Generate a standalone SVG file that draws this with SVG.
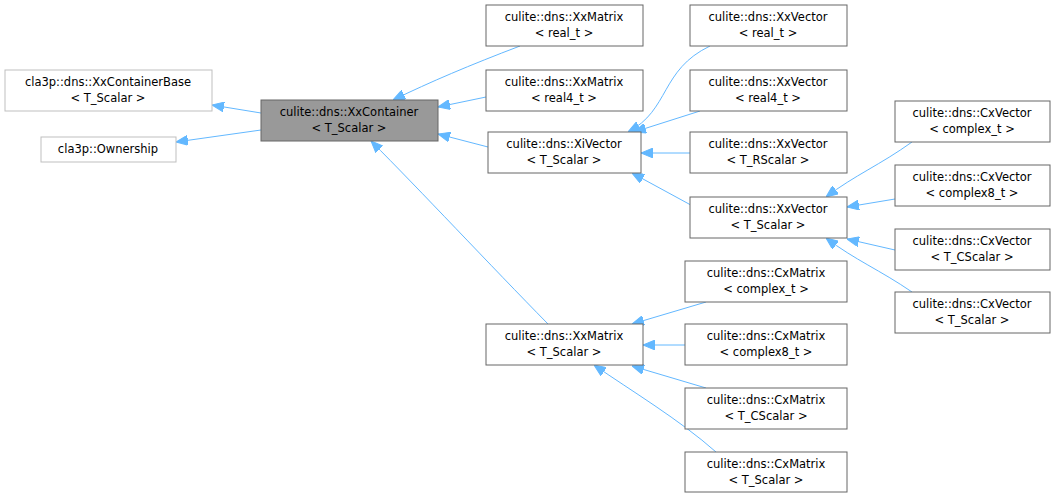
<svg xmlns="http://www.w3.org/2000/svg" width="1055" height="499" viewBox="0 0 1055 499">
<style>
.n rect{fill:#fff;stroke:#666;stroke-width:1}
.g rect{fill:#fff;stroke:#bfbfbf}
.h rect{fill:#999;stroke:#666}
text{font-family:"DejaVu Sans",sans-serif;font-size:11.5px;fill:#000;text-anchor:middle}
#edges path{fill:none;stroke:#63b8ff;stroke-width:1;marker-end:url(#a)}
</style>
<defs><marker id="a" viewBox="0 0 12 10" refX="12" refY="5" markerWidth="12" markerHeight="10" markerUnits="userSpaceOnUse" orient="auto"><path d="M0,0 L12,5 L0,10 Z" fill="#63b8ff" stroke="#63b8ff"/></marker></defs>
<rect width="1055" height="499" fill="#fff"/>
<g id="edges">
<path d="M261,113 L212,105"/>
<path d="M261,130 L176,142"/>
<path d="M520,46 C470,65 430,82 393,100"/>
<path d="M486,97 L438,107"/>
<path d="M488,147 L438,134"/>
<path d="M548,324 C490,265 420,190 371,141"/>
<path d="M710,46 C660,70 670,110 628,132"/>
<path d="M700,111 L634,132"/>
<path d="M690,153 L641,153"/>
<path d="M700,210 L632,173"/>
<path d="M912,142 C880,165 855,175 826,197"/>
<path d="M895,199 L847,207"/>
<path d="M895,250 L847,239"/>
<path d="M912,292 C880,270 855,260 826,238"/>
<path d="M706,302 L632,324"/>
<path d="M685,345 L643,345"/>
<path d="M706,388 L632,366"/>
<path d="M716,452 C680,420 630,390 594,365"/>
</g>
<g id="base" class="g"><rect x="5" y="70" width="207" height="41"/><text x="108" y="86">cla3p::dns::XxContainerBase</text><text x="108" y="102">&lt; T_Scalar &gt;</text></g>
<g id="own" class="g"><rect x="41" y="137" width="135" height="25"/><text x="108" y="153">cla3p::Ownership</text></g>
<g id="cont" class="h"><rect x="261" y="100" width="177" height="41"/><text x="349" y="116">culite::dns::XxContainer</text><text x="349" y="132">&lt; T_Scalar &gt;</text></g>
<g id="m1" class="n"><rect x="486" y="5" width="157" height="41"/><text x="564" y="21">culite::dns::XxMatrix</text><text x="564" y="37">&lt; real_t &gt;</text></g>
<g id="m2" class="n"><rect x="486" y="70" width="157" height="41"/><text x="564" y="86">culite::dns::XxMatrix</text><text x="564" y="102">&lt; real4_t &gt;</text></g>
<g id="xi" class="n"><rect x="488" y="132" width="153" height="41"/><text x="564" y="148">culite::dns::XiVector</text><text x="564" y="164">&lt; T_Scalar &gt;</text></g>
<g id="mt" class="n"><rect x="486" y="324" width="157" height="41"/><text x="564" y="340">culite::dns::XxMatrix</text><text x="564" y="356">&lt; T_Scalar &gt;</text></g>
<g id="v1" class="n"><rect x="690" y="5" width="157" height="41"/><text x="768" y="21">culite::dns::XxVector</text><text x="768" y="37">&lt; real_t &gt;</text></g>
<g id="v2" class="n"><rect x="690" y="70" width="157" height="41"/><text x="768" y="86">culite::dns::XxVector</text><text x="768" y="102">&lt; real4_t &gt;</text></g>
<g id="v3" class="n"><rect x="690" y="132" width="157" height="41"/><text x="768" y="148">culite::dns::XxVector</text><text x="768" y="164">&lt; T_RScalar &gt;</text></g>
<g id="vt" class="n"><rect x="690" y="197" width="157" height="41"/><text x="768" y="213">culite::dns::XxVector</text><text x="768" y="229">&lt; T_Scalar &gt;</text></g>
<g id="cm1" class="n"><rect x="685" y="261" width="162" height="41"/><text x="766" y="277">culite::dns::CxMatrix</text><text x="766" y="293">&lt; complex_t &gt;</text></g>
<g id="cm2" class="n"><rect x="685" y="324" width="162" height="41"/><text x="766" y="340">culite::dns::CxMatrix</text><text x="766" y="356">&lt; complex8_t &gt;</text></g>
<g id="cm3" class="n"><rect x="685" y="388" width="162" height="41"/><text x="766" y="404">culite::dns::CxMatrix</text><text x="766" y="420">&lt; T_CScalar &gt;</text></g>
<g id="cm4" class="n"><rect x="685" y="452" width="162" height="40"/><text x="766" y="468">culite::dns::CxMatrix</text><text x="766" y="484">&lt; T_Scalar &gt;</text></g>
<g id="cv1" class="n"><rect x="895" y="101" width="155" height="41"/><text x="972" y="117">culite::dns::CxVector</text><text x="972" y="133">&lt; complex_t &gt;</text></g>
<g id="cv2" class="n"><rect x="895" y="165" width="155" height="41"/><text x="972" y="181">culite::dns::CxVector</text><text x="972" y="197">&lt; complex8_t &gt;</text></g>
<g id="cv3" class="n"><rect x="895" y="229" width="155" height="41"/><text x="972" y="245">culite::dns::CxVector</text><text x="972" y="261">&lt; T_CScalar &gt;</text></g>
<g id="cv4" class="n"><rect x="895" y="292" width="155" height="41"/><text x="972" y="308">culite::dns::CxVector</text><text x="972" y="324">&lt; T_Scalar &gt;</text></g>
</svg>
